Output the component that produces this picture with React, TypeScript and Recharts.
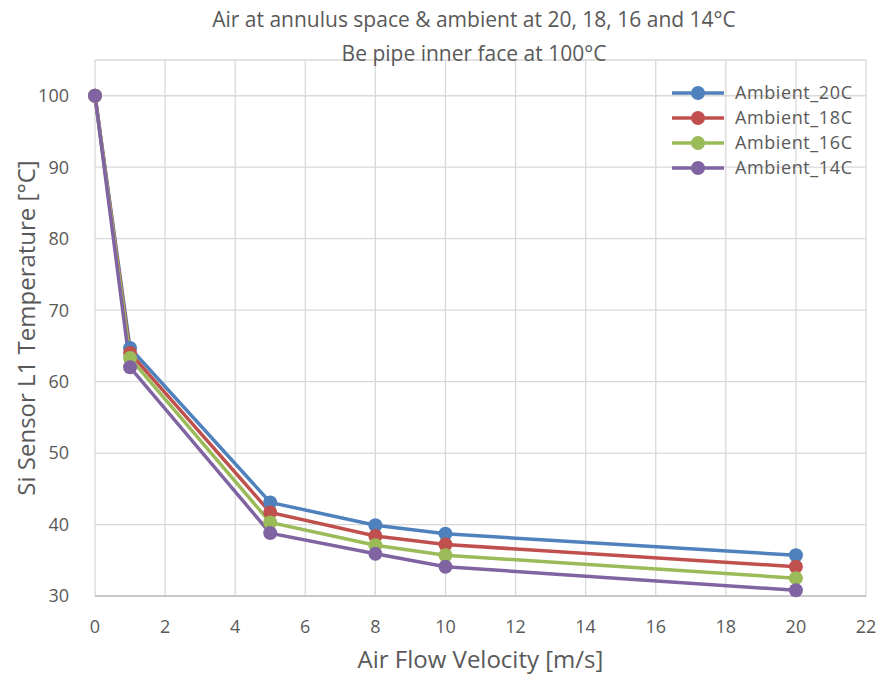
import { LineChart, Line, XAxis, YAxis, CartesianGrid } from 'recharts'

const velocity = [0, 1, 5, 8, 10, 20]
const ambient20 = [100, 64.7, 43.1, 39.9, 38.7, 35.7]
const ambient18 = [100, 64.0, 41.7, 38.4, 37.2, 34.1]
const ambient16 = [100, 63.3, 40.3, 37.1, 35.7, 32.5]
const ambient14 = [100, 62.0, 38.8, 35.9, 34.1, 30.8]
const xTicks = [0, 2, 4, 6, 8, 10, 12, 14, 16, 18, 20, 22]
const yTicks = [30, 40, 50, 60, 70, 80, 90, 100]

const series = [
  { key: 'Ambient_20C', values: ambient20, color: '#4F81BD' },
  { key: 'Ambient_18C', values: ambient18, color: '#C0504D' },
  { key: 'Ambient_16C', values: ambient16, color: '#9BBB59' },
  { key: 'Ambient_14C', values: ambient14, color: '#8064A2' },
]

const data = velocity.map((v, i) => {
  const row: Record<string, number> = { v }
  series.forEach((s) => (row[s.key] = s.values[i]))
  return row
})

const font = '"Open Sans", sans-serif'
const textColor = '#595959'

// legend drawn by hand so it doesn't steal room from the plot
function LegendBox() {
  return (
    <div
      style={{
        position: 'absolute',
        left: 668,
        top: 80,
        fontFamily: font,
        fontSize: 18,
        color: textColor,
        lineHeight: '25px',
      }}
    >
      {series.map((s) => (
        <div key={s.key} style={{ display: 'flex', alignItems: 'center', height: 25 }}>
          <svg width={58} height={16} style={{ marginRight: 9 }}>
            <line x1={4} y1={8} x2={56} y2={8} stroke={s.color} strokeWidth={3.5} />
            <circle cx={30} cy={8} r={7} fill={s.color} />
          </svg>
          <span style={{ fontSize: 18, letterSpacing: 0.6 }}>{s.key}</span>
        </div>
      ))}
    </div>
  )
}

export default function App() {
  return (
    <div style={{ position: 'absolute', left: 0, top: 0, width: 886, height: 674, background: '#fff' }}>
      <LineChart
        width={886}
        height={674}
        data={data}
        margin={{ top: 60, right: 20, left: 0, bottom: 0 }}
        style={{ position: 'absolute', left: 0, top: 0 }}
      >
        <CartesianGrid stroke="#D9D9D9" strokeWidth={1.3} />
        <XAxis
          type="number"
          dataKey="v"
          domain={[0, 22]}
          ticks={xTicks}
          height={78}
          tick={{ fontFamily: font, fontSize: 18, fill: textColor }}
          tickLine={false}
          axisLine={{ stroke: '#BFBFBF', strokeWidth: 1.5 }}
          tickMargin={18}
          label={{
            value: 'Air Flow Velocity [m/s]',
            position: 'insideBottom',
            offset: 6,
            style: { fontFamily: font, fontSize: 24, fill: textColor },
          }}
        />
        <YAxis
          type="number"
          domain={[30, 105]}
          ticks={yTicks}
          width={95}
          tick={{ fontFamily: font, fontSize: 18, fill: textColor }}
          tickLine={false}
          axisLine={false}
          tickMargin={20}
          label={{
            value: 'Si Sensor L1 Temperature [°C]',
            angle: -90,
            position: 'insideLeft',
            offset: 26,
            style: { fontFamily: font, fontSize: 24, fill: textColor, textAnchor: 'middle' },
          }}
        />
        {series.map((s) => (
          <Line
            key={s.key}
            type="linear"
            dataKey={s.key}
            stroke={s.color}
            strokeWidth={3.5}
            dot={{ r: 7, fill: s.color, stroke: s.color, strokeWidth: 0 }}
            activeDot={false}
            isAnimationActive={false}
          />
        ))}
      </LineChart>
      <div
        style={{
          position: 'absolute',
          left: 0,
          top: 2,
          width: 948,
          textAlign: 'center',
          fontFamily: font,
          fontSize: 21,
          color: textColor,
          lineHeight: '34px',
        }}
      >
        <div>Air at annulus space &amp; ambient at 20, 18, 16 and 14°C</div>
        <div>Be pipe inner face at 100°C</div>
      </div>
      <LegendBox />
    </div>
  )
}
